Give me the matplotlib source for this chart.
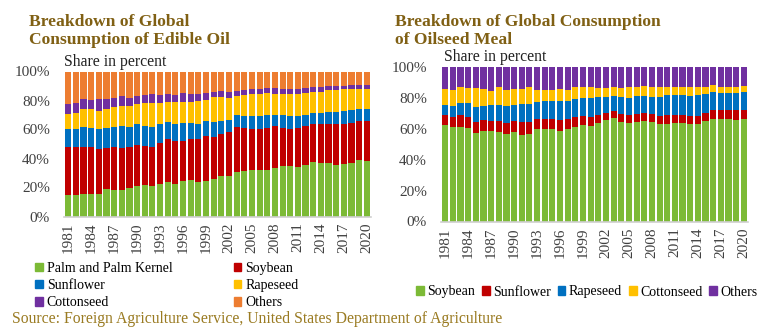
import numpy as np
import matplotlib
matplotlib.use("Agg")
import matplotlib.pyplot as plt
from matplotlib.patches import Patch

plt.rcParams['font.family'] = ['Liberation Serif', 'DejaVu Serif']

# 1. Data (shares in percent)
YEARS = list(range(1981, 2021))

# Edible oil
oil_palm = [14.6, 15.1, 15.7, 15.7, 15.7, 18.7, 18.3, 18.3, 19.9, 21.3,
            21.7, 21.3, 22.4, 24.0, 22.6, 24.3, 25.4, 24.0, 24.7, 26.1,
            28.2, 28.2, 30.5, 31.1, 32.3, 31.8, 32.3, 33.4, 34.6, 34.6,
            34.1, 35.3, 37.6, 37.1, 37.1, 35.7, 36.0, 37.1, 38.7, 38.5]
oil_soybean = [33.3, 32.8, 32.2, 32.2, 31.1, 28.8, 29.6, 28.9, 28.0, 27.8,
               26.7, 26.4, 28.3, 29.2, 29.5, 27.8, 27.8, 29.2, 30.8, 28.7,
               28.9, 30.1, 31.2, 29.7, 28.3, 28.8, 29.0, 29.2, 26.7, 26.0,
               27.2, 27.3, 26.2, 26.7, 26.7, 28.1, 27.8, 27.6, 26.9, 27.1]
oil_sunflower = [12.2, 12.2, 13.8, 13.4, 13.3, 13.8, 13.8, 15.4, 13.8, 14.7,
                 14.2, 13.8, 13.1, 11.7, 11.7, 12.4, 11.3, 10.8, 10.6, 10.4,
                 8.5, 8.5, 8.1, 8.3, 8.5, 8.5, 8.5, 7.6, 8.5, 8.7,
                 7.8, 7.6, 7.6, 7.6, 8.3, 8.3, 8.7, 8.5, 8.5, 8.5]
oil_rapeseed = [10.8, 11.3, 12.2, 12.6, 12.7, 13.1, 14.0, 13.8, 14.5, 13.8,
                15.4, 16.5, 14.2, 14.3, 15.2, 14.7, 14.7, 15.4, 14.2, 17.0,
                16.6, 14.9, 13.1, 14.5, 15.2, 15.2, 15.4, 14.3, 14.9, 15.2,
                15.4, 15.2, 14.7, 14.7, 15.4, 15.4, 15.2, 14.5, 14.1, 14.1]
oil_cottonseed = [6.9, 7.1, 6.9, 6.4, 8.0, 6.9, 6.0, 6.9, 5.7, 5.7,
                  6.0, 6.5, 5.8, 5.3, 4.8, 5.7, 5.1, 5.1, 5.1, 3.9,
                  4.1, 4.2, 3.9, 3.9, 3.6, 3.9, 3.7, 4.4, 3.5, 3.4,
                  3.7, 3.2, 3.2, 3.2, 2.5, 2.5, 2.5, 2.8, 2.3, 2.3]
oil_others = [22.2, 21.5, 19.2, 19.7, 19.2, 18.7, 18.3, 16.7, 18.1, 16.7,
              16.0, 15.5, 16.2, 15.5, 16.2, 15.1, 15.7, 15.5, 14.6, 13.9,
              13.7, 14.1, 13.2, 12.5, 12.1, 11.8, 11.1, 11.1, 11.8, 12.1,
              11.8, 11.4, 10.7, 10.7, 10.0, 10.0, 9.8, 9.5, 9.5, 9.5]

# Oilseed meal
meal_soybean = [62.2, 61.2, 61.2, 60.7, 57.3, 58.6, 58.6, 57.9, 56.8, 57.9,
                56.2, 56.8, 59.7, 60.1, 60.1, 58.6, 59.7, 61.2, 62.2, 61.6,
                63.8, 65.7, 66.8, 64.6, 64.0, 64.2, 64.8, 64.6, 62.9, 63.3,
                64.0, 63.5, 62.9, 62.9, 64.8, 66.3, 66.3, 66.3, 65.7, 66.3]
meal_sunflower = [6.5, 6.2, 7.5, 6.7, 7.3, 7.1, 6.4, 7.1, 7.0, 7.1,
                  8.0, 7.4, 6.4, 6.0, 6.0, 7.1, 6.4, 6.2, 5.9, 6.0,
                  4.9, 4.5, 4.9, 5.2, 4.7, 5.6, 5.4, 5.2, 5.6, 5.4,
                  5.1, 5.2, 5.6, 5.6, 5.4, 6.1, 6.1, 5.7, 6.3, 6.1]
meal_rapeseed = [6.9, 7.6, 8.0, 9.3, 9.5, 9.3, 10.6, 10.6, 10.7, 10.6,
                 11.9, 12.1, 11.3, 11.9, 11.9, 12.3, 11.9, 12.1, 12.1, 12.3,
                 11.9, 10.4, 9.7, 10.8, 11.5, 11.6, 11.2, 10.8, 12.1, 13.4,
                 13.0, 13.0, 12.7, 13.6, 12.5, 11.4, 11.0, 11.4, 11.2, 11.4]
meal_cottonseed = [10.4, 10.3, 10.1, 9.7, 12.3, 10.8, 8.9, 11.2, 10.6, 10.4,
                   9.9, 10.5, 7.9, 7.3, 7.3, 8.0, 7.3, 7.3, 6.6, 6.9,
                   5.8, 5.8, 5.9, 5.8, 7.1, 5.9, 6.5, 6.7, 6.2, 5.2,
                   5.2, 5.1, 5.6, 5.2, 4.6, 4.3, 3.9, 3.9, 4.1, 4.1]
meal_others = [14.0, 14.7, 13.2, 13.6, 13.6, 14.2, 15.5, 13.2, 14.9, 14.0,
               14.0, 13.2, 14.7, 14.7, 14.7, 14.0, 14.7, 13.2, 13.2, 13.2,
               13.6, 13.6, 12.7, 13.6, 12.7, 12.7, 12.1, 12.7, 13.2, 12.7,
               12.7, 13.2, 13.2, 12.7, 12.7, 11.9, 12.7, 12.7, 12.7, 12.1]

OIL_LABELS = ["Palm and Palm Kernel", "Soybean", "Sunflower", "Rapeseed", "Cottonseed", "Others"]
MEAL_LABELS = ["Soybean", "Sunflower", "Rapeseed", "Cottonseed", "Others"]

GREEN, RED, BLUE, YELLOW, PURPLE, ORANGE = "#7CBA36", "#C00000", "#0070C0", "#FFC000", "#7030A0", "#ED7D31"
OIL_COLORS = [GREEN, RED, BLUE, YELLOW, PURPLE, ORANGE]
MEAL_COLORS = [GREEN, RED, BLUE, YELLOW, PURPLE]

TITLE_COLOR = "#806014"
TICK_COLOR = "#404040"

W, H = 768, 336
fig = plt.figure(figsize=(W / 100, H / 100), dpi=100)


def px_axes(x0, y0, x1, y1):
    # pixel box (top-left origin) -> figure axes
    return fig.add_axes([x0 / W, 1 - y1 / H, (x1 - x0) / W, (y1 - y0) / H])


def stacked(ax, series, colors, labels):
    x = np.arange(len(YEARS))
    bottom = np.zeros(len(YEARS))
    for vals, c, lab in zip(series, colors, labels):
        ax.bar(x, vals, bottom=bottom, width=0.8, color=c, label=lab, linewidth=0)
        bottom += np.array(vals)
    ax.set_xlim(-0.55, len(YEARS) - 0.45)
    ax.set_ylim(0, 100)
    ax.set_yticks(range(0, 101, 20))
    ax.set_yticklabels([f"{v}%" for v in range(0, 101, 20)])
    ax.set_xticks(x[::3])
    ax.set_xticklabels([str(y) for y in YEARS[::3]], rotation=90)
    for s in ["top", "right", "left"]:
        ax.spines[s].set_visible(False)
    ax.spines["bottom"].set_color("#D0D0D0")
    ax.spines["bottom"].set_linewidth(1.2)
    ax.tick_params(length=0, labelsize=11, colors=TICK_COLOR)
    ax.tick_params(axis="y", pad=10)
    ax.tick_params(axis="x", pad=4)


# 2. Left chart: edible oil
ax1 = px_axes(64, 71.5, 371, 216.5)
stacked(ax1, [oil_palm, oil_soybean, oil_sunflower, oil_rapeseed, oil_cottonseed, oil_others],
        OIL_COLORS, OIL_LABELS)
fig.text(29 / W, 1 - 31 / H, "Breakdown of Global\nConsumption of Edible Oil", fontsize=12.6,
         fontweight="bold", color=TITLE_COLOR, va="center", ha="left", linespacing=1.1)
fig.text(64 / W, 1 - 62 / H, "Share in percent", fontsize=11.3, color="#202020", va="center")

# legend in reference order (row-major), matplotlib fills by column
h = [Patch(color=c) for c in OIL_COLORS]
order = [0, 2, 4, 1, 3, 5]
fig.legend([h[i] for i in order], [OIL_LABELS[i] for i in order], ncol=2,
           loc="upper left", bbox_to_anchor=(35 / W, 1 - 262 / H), frameon=False,
           fontsize=10, handlelength=0.55, handleheight=0.55, handletextpad=0.3,
           columnspacing=4.4, labelspacing=0.3, borderpad=0, borderaxespad=0)

# 3. Right chart: oilseed meal
ax2 = px_axes(441, 67, 748, 221.5)
stacked(ax2, [meal_soybean, meal_sunflower, meal_rapeseed, meal_cottonseed, meal_others],
        MEAL_COLORS, MEAL_LABELS)
fig.text(395 / W, 1 - 31 / H, "Breakdown of Global Consumption\nof Oilseed Meal", fontsize=12.6,
         fontweight="bold", color=TITLE_COLOR, va="center", ha="left", linespacing=1.1)
fig.text(444 / W, 1 - 57 / H, "Share in percent", fontsize=11.3, color="#202020", va="center")

h2 = [Patch(color=c) for c in MEAL_COLORS]
fig.legend(h2, MEAL_LABELS, ncol=5, loc="center left", bbox_to_anchor=(416 / W, 1 - 292 / H),
           frameon=False, fontsize=10, handlelength=0.55, handleheight=0.55, handletextpad=0.25,
           columnspacing=0.5, borderpad=0, borderaxespad=0)

# 4. Source line
fig.text(12 / W, 1 - 319 / H,
         "Source: Foreign Agriculture Service, United States Department of Agriculture",
         fontsize=11.3, color="#9A7B22", va="center", ha="left")

fig.savefig("out.png", dpi=100)
